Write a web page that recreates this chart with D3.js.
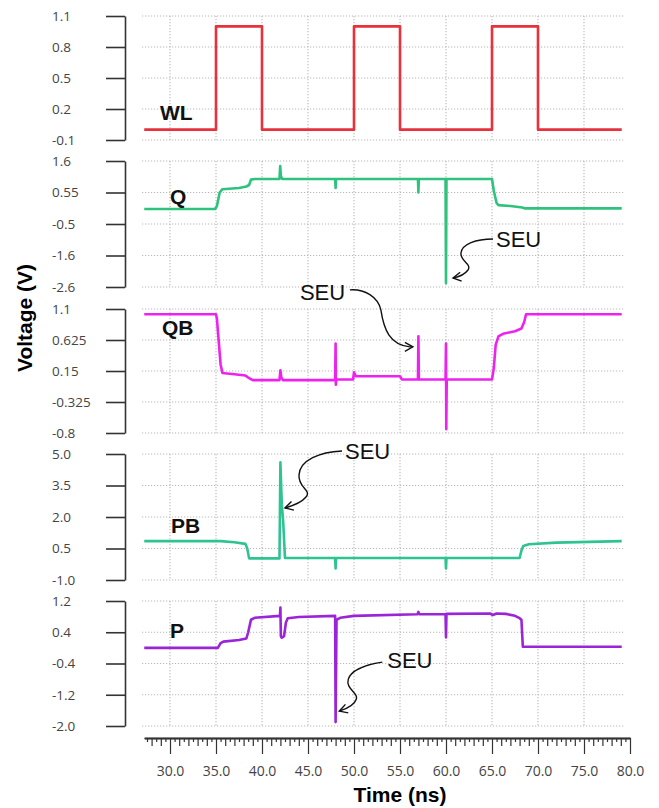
<!DOCTYPE html>
<html>
<head>
<meta charset="utf-8">
<script src="https://cdn.jsdelivr.net/npm/d3@7"></script>
<style>
  body { margin: 0; background: #fff; }
  svg { display: block; }
</style>
</head>
<body>
<svg id="chart" width="659" height="808"></svg>
<script>
// ---- data: [time (ns), voltage (V)] ----
const wlWave = [[27.2, 0], [35, 0], [35, 1], [40, 1], [40, 0], [50, 0], [50, 1], [55, 1], [55, 0],
    [65, 0], [65, 1], [70, 1], [70, 0], [79.1, 0]];

const qWave = [[27.2, 0], [34.9, 0], [35.1, 0.1], [35.4, 0.55], [35.7, 0.66], [37.5, 0.7], [38.3, 0.75],
    [38.6, 0.8], [38.8, 0.98], [39.2, 1.0], [41.9, 1.0], [41.98, 1.43], [42.05, 1.1], [42.2, 1.0],
    [47.95, 1.0], [48.0, 0.7], [48.05, 1.0], [56.95, 1.0], [57.0, 0.55], [57.05, 1.0],
    [59.95, 1.0], [60.0, -2.47], [60.05, 1.0], [65.0, 1.0], [65.2, 0.6], [65.5, 0.2], [65.7, 0.13],
    [67, 0.1], [68.3, 0.05], [68.6, 0.02], [79.1, 0.02]];

const qbWave = [[27.2, 1.02], [35.0, 1.02], [35.1, 0.95], [35.3, 0.6], [35.5, 0.25], [35.7, 0.12],
    [37, 0.1], [38.2, 0.08], [38.5, 0.05], [39, 0.01], [41.9, 0.01], [42.0, 0.16], [42.1, 0.05],
    [42.3, 0.01], [47.95, 0.01], [48.0, 0.57], [48.03, -0.06], [48.08, 0.02], [49.9, 0.02],
    [50.0, 0.13], [50.2, 0.07], [55.0, 0.07], [55.2, 0.02], [56.95, 0.02], [57.0, 0.68],
    [57.05, 0.02], [59.95, 0.02], [60.0, 0.57], [60.03, -0.74], [60.08, 0.02], [65.0, 0.02],
    [65.2, 0.2], [65.4, 0.55], [65.7, 0.68], [66.2, 0.72], [67.5, 0.76], [68.2, 0.8], [68.5, 0.9],
    [68.7, 1.02], [79.1, 1.02]];

const pbWave = [[27.2, 0.85], [35.5, 0.85], [37, 0.8], [38.2, 0.72], [38.4, 0.5], [38.6, 0.03],
    [41.9, 0.03], [42.0, 4.6], [42.15, 2.6], [42.3, 1.8], [42.5, 0.05], [47.95, 0.05], [48.0, -0.45],
    [48.05, 0.05], [59.95, 0.05], [60.0, -0.45], [60.05, 0.05], [68.0, 0.05], [68.2, 0.4],
    [68.4, 0.62], [69, 0.7], [72, 0.78], [79.1, 0.85]];

const pWave = [[27.2, 0.0], [35.2, 0.0], [35.5, 0.12], [35.8, 0.16], [37.5, 0.2], [38.3, 0.24],
    [38.5, 0.4], [38.8, 0.72], [39.2, 0.77], [41.95, 0.82], [42.0, 1.03], [42.05, 0.3], [42.15, 0.26],
    [42.4, 0.3], [42.6, 0.65], [42.8, 0.76], [44, 0.79], [47.95, 0.82], [48.0, -1.9], [48.1, 0.72],
    [48.5, 0.77], [50, 0.82], [56.9, 0.86], [57.0, 0.92], [57.1, 0.86], [59.95, 0.86], [60.0, 0.27],
    [60.05, 0.87], [64.8, 0.88], [65.1, 0.84], [65.5, 0.88], [66.5, 0.87], [67.5, 0.82], [68.0, 0.76],
    [68.2, 0.72], [68.35, 0.03], [79.1, 0.03]];

// y ticks (values) and the labels printed next to them
const wlTicks = [1.1, 0.8, 0.5, 0.2, -0.1];
const wlLabels = ["1.1", "0.8", "0.5", "0.2", "-0.1"];
const qTicks = [1.6, 0.55, -0.5, -1.55, -2.6];
const qLabels = ["1.6", "0.55", "-0.5", "-1.6", "-2.6"];
const qbTicks = [1.1, 0.625, 0.15, -0.325, -0.8];
const qbLabels = ["1.1", "0.625", "0.15", "-0.325", "-0.8"];
const pbTicks = [5.0, 3.5, 2.0, 0.5, -1.0];
const pbLabels = ["5.0", "3.5", "2.0", "0.5", "-1.0"];
const pTicks = [1.2, 0.4, -0.4, -1.2, -2.0];
const pLabels = ["1.2", "0.4", "-0.4", "-1.2", "-2.0"];

const timeTicks = [30, 35, 40, 45, 50, 55, 60, 65, 70, 75, 80];
const gridTimes = [30, 35, 40, 45, 50, 55, 60, 65, 70, 75];

// SEU annotations: where the arrow points (time, voltage) in which panel
const seuPanels = ["Q", "QB", "PB", "P"];
const seuTimes = [60.76, 56.4, 42.5, 48.4];
const seuVolts = [-2.3, 0.52, 2.43, -1.62];

// ---- layout ----
const svg = d3.select("#chart");
const axisX = 125;
const plotLeft = 142, plotRight = 625;

const x = d3.scaleLinear().domain([30, 80]).range([170, 630]);

const panels = [
    {name: "WL", wave: wlWave, ticks: wlTicks, labels: wlLabels, color: "#e8313a", top: 16, bottom: 140, lx: 160, ly: 120},
    {name: "Q", wave: qWave, ticks: qTicks, labels: qLabels, color: "#2fc27e", top: 161, bottom: 287, lx: 170, ly: 204},
    {name: "QB", wave: qbWave, ticks: qbTicks, labels: qbLabels, color: "#ee22ee", top: 309, bottom: 433, lx: 162, ly: 335},
    {name: "PB", wave: pbWave, ticks: pbTicks, labels: pbLabels, color: "#2ec491", top: 454, bottom: 580, lx: 171, ly: 533},
    {name: "P", wave: pWave, ticks: pTicks, labels: pLabels, color: "#9b24d8", top: 601, bottom: 726, lx: 170, ly: 638}
];

// open chevron arrowhead for the SEU arrows
svg.append("defs").append("marker")
    .attr("id", "chev")
    .attr("markerUnits", "userSpaceOnUse")
    .attr("viewBox", "-10 -6 12 12")
    .attr("refX", 0).attr("refY", 0)
    .attr("markerWidth", 12).attr("markerHeight", 12)
    .attr("orient", "auto")
    .append("path")
    .attr("d", "M-8,-4.5 L0,0 L-8,4.5")
    .attr("fill", "none")
    .attr("stroke", "#111")
    .attr("stroke-width", 1.4);

const scales = {};

panels.forEach(p => {
    const y = d3.scaleLinear()
        .domain([p.ticks[p.ticks.length - 1], p.ticks[0]])
        .range([p.bottom, p.top]);
    scales[p.name] = y;

    const g = svg.append("g");

    // dotted grid
    g.selectAll("hgrid").data(p.ticks).enter().append("line")
        .attr("x1", plotLeft).attr("x2", plotRight)
        .attr("y1", d => y(d)).attr("y2", d => y(d))
        .attr("stroke", "#b8b8b8").attr("stroke-width", 1.1)
        .attr("stroke-dasharray", "1.2,1.8");
    g.selectAll("vgrid").data(gridTimes).enter().append("line")
        .attr("x1", d => x(d)).attr("x2", d => x(d))
        .attr("y1", p.top).attr("y2", p.bottom)
        .attr("stroke", "#b8b8b8").attr("stroke-width", 1.1)
        .attr("stroke-dasharray", "1.2,1.8");

    // y axis
    const yAxis = d3.axisLeft(y)
        .tickValues(p.ticks)
        .tickSize(19)
        .tickSizeOuter(0)
        .tickFormat((d, i) => p.labels[i]);
    const ag = g.append("g").attr("transform", `translate(${axisX},0)`).call(yAxis);
    ag.select(".domain").attr("stroke", "#333").attr("stroke-width", 1.6);
    ag.selectAll(".tick line").attr("stroke", "#333").attr("stroke-width", 1.6);
    ag.selectAll(".tick text")
        .attr("x", -73)
        .attr("text-anchor", "start")
        .attr("fill", "#444")
        .style("font-family", "'Open Sans', sans-serif")
        .style("font-size", "13.5px");

    // waveform
    const line = d3.line().x(d => x(d[0])).y(d => y(d[1]));
    g.append("path")
        .datum(p.wave)
        .attr("d", line)
        .attr("fill", "none")
        .attr("stroke", p.color)
        .attr("stroke-width", 2.6)
        .attr("stroke-linejoin", "round");

    // signal name
    g.append("text")
        .attr("x", p.lx).attr("y", p.ly)
        .style("font-family", "'Liberation Sans', Arial, sans-serif")
        .style("font-weight", "bold")
        .style("font-size", "21px")
        .attr("fill", "#111")
        .text(p.name);
});

// ---- SEU arrows: curve offsets relative to the arrow tip ----
const arrowShapes = [
    {curve: [[40, -39], [23, -39], [9, -34], [8, -25], [7, -17], [19, -14], [15, -8], [12, -4], [6, -1], [0, 0]], text: [43, -31]},
    {curve: [[-63, -57], [-48, -58], [-35, -50], [-32, -37], [-29, -17], [-23, -2], [-3, 0], [-2, 0], [-1, 0], [0, 0]], text: [-113, -47]},
    {curve: [[57, -57], [35, -56], [15, -48], [14, -33], [13, -20], [27, -18], [21, -11], [17, -6], [7, -2], [0, 0]], text: [60, -49]},
    {curve: [[43, -49], [30, -47], [12, -42], [9, -32], [6, -22], [20, -18], [17, -12], [15, -6], [6, -2], [0, 0]], text: [48, -43]}
];

seuPanels.forEach((name, i) => {
    const tx = x(seuTimes[i]);
    const ty = scales[name](seuVolts[i]);
    const c = arrowShapes[i].curve.map(d => [tx + d[0], ty + d[1]]);
    const path = d3.path();
    path.moveTo(c[0][0], c[0][1]);
    for (let k = 1; k < c.length; k += 3) {
        path.bezierCurveTo(c[k][0], c[k][1], c[k + 1][0], c[k + 1][1], c[k + 2][0], c[k + 2][1]);
    }
    svg.append("path")
        .attr("d", path.toString())
        .attr("fill", "none")
        .attr("stroke", "#111")
        .attr("stroke-width", 1.4)
        .attr("marker-end", "url(#chev)");
    svg.append("text")
        .attr("x", tx + arrowShapes[i].text[0])
        .attr("y", ty + arrowShapes[i].text[1])
        .style("font-family", "'Liberation Sans', Arial, sans-serif")
        .style("font-size", "22px")
        .attr("fill", "#111")
        .text("SEU");
});

// ---- time axis with major / minor ticks ----
const xAxisY = 738;
const timeAxis = d3.scaleLinear().domain([27.2, 80]).range([x(27.2), x(80)]);
const halfTicks = d3.range(27.5, 80.01, 0.5).filter(d => d % 1 !== 0);
const unitTicks = d3.range(28, 80.01, 1).filter(d => d % 5 !== 0);

const xg = svg.append("g").attr("transform", `translate(0,${xAxisY})`);
xg.append("g").call(d3.axisBottom(timeAxis).tickValues(halfTicks).tickSize(4).tickSizeOuter(0).tickFormat(""));
xg.append("g").call(d3.axisBottom(timeAxis).tickValues(unitTicks).tickSize(8).tickSizeOuter(0).tickFormat(""));
xg.append("g").call(d3.axisBottom(timeAxis).tickValues(timeTicks).tickSize(16).tickSizeOuter(0)
    .tickFormat(d3.format(".1f")));
xg.selectAll(".domain").attr("stroke", "#333").attr("stroke-width", 1.4);
xg.selectAll(".tick line").attr("stroke", "#333").attr("stroke-width", 1.2);
xg.selectAll(".tick text")
    .attr("y", 28)
    .attr("fill", "#444")
    .style("font-family", "'Open Sans', sans-serif")
    .style("font-size", "14px");

// axis titles
svg.append("text")
    .attr("x", 400).attr("y", 802)
    .attr("text-anchor", "middle")
    .style("font-family", "'Liberation Sans', Arial, sans-serif")
    .style("font-weight", "bold")
    .style("font-size", "21px")
    .text("Time (ns)");

svg.append("text")
    .attr("transform", "translate(32,318) rotate(-90)")
    .attr("text-anchor", "middle")
    .style("font-family", "'Liberation Sans', Arial, sans-serif")
    .style("font-weight", "bold")
    .style("font-size", "21px")
    .text("Voltage (V)");
</script>
</body>
</html>
